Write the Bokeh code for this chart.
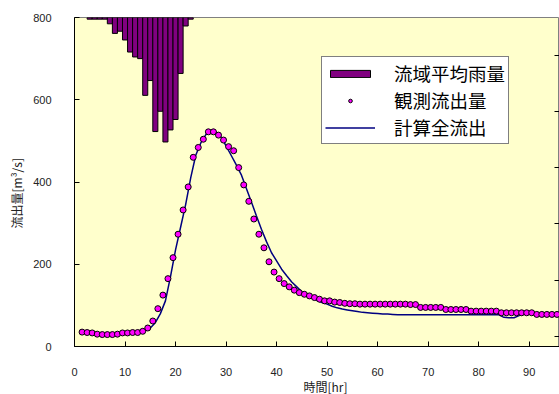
from bokeh.plotting import figure
from bokeh.models import Range1d, LinearAxis, FixedTicker, SingleIntervalTicker, Legend, LegendItem, Title
from bokeh.embed import file_html
from bokeh.resources import INLINE

# ---- data ----
rain_hours = [3, 4, 5, 6, 7, 8, 9, 10, 11, 12, 13, 14, 15, 16, 17, 18, 19, 20, 21, 22, 23]
rain_mm = [0.3, 0.3, 0.3, 0.3, 1.15, 2.9, 2.5, 4.1, 6.3, 7.2, 7.5, 14.2, 11.5, 20.8,
           17.1, 22.7, 20.5, 18.6, 10.2, 1.55, 0.3]

obs_hours = [k + 0.5 for k in range(1, 96)]
obs_flow = [35, 34, 33, 30, 29, 29, 29, 30, 33, 33, 34, 34, 37, 45, 62, 92,
            125, 165, 216, 273, 332, 388, 460, 484, 504, 522, 522, 514, 502, 486, 476, 435,
            393, 353, 310, 273, 240, 206, 181, 165,
            153, 145, 137, 131, 127, 123, 119, 115, 111, 111, 108, 107, 105,
            104, 104, 103, 103, 103, 103, 103, 103, 103, 103, 103, 103, 102, 102,
            95, 95, 95, 95, 95,
            90, 90, 90, 90, 90,
            86, 86, 86, 86, 86, 86,
            82, 82, 82, 82, 82, 82, 82,
            78, 78, 78, 78, 78]

calc_hours = list(range(2, 97))
calc_flow = [33, 32, 30, 29, 28, 28, 29, 31, 32, 33, 34, 35, 38, 45, 58,
             80, 111, 170, 235, 290, 345, 410, 465, 495, 515, 525, 522, 510, 488,
             465, 442, 418, 385, 352, 318, 285, 255, 228, 208, 188, 172, 157, 145, 133,
             125, 118, 112, 107, 103, 98, 94, 91, 89, 87, 85, 83, 82, 81, 80, 79, 79, 78,
             77, 77, 77, 77, 77, 77, 77, 77, 77, 77, 77, 77, 77, 77, 77, 77, 77, 77, 77, 77, 77,
             71, 70, 70, 75,
             79, 79, 79, 79, 79, 79, 79, 79]

x_max = 96
flow_max = 800
rain_axis_max = 60
rain_ticks = [6.9, 17.2, 27.4, 37.6, 47.9, 58.1]

labels = ["流域平均雨量", "観測流出量", "計算全流出"]
x_title = "時間[hr]"
y_title = "流出量[m³/s]"

# ---- figure ----
p = figure(width=559, height=394, output_backend="svg", toolbar_location=None,
           x_range=Range1d(0, x_max), y_range=Range1d(0, flow_max),
           min_border_left=74, min_border_top=17, min_border_right=0, min_border_bottom=48)
p.background_fill_color = "#FFFFCC"
p.border_fill_color = "white"
p.outline_line_color = "#808080"
p.xgrid.visible = False
p.ygrid.visible = False

p.extra_y_ranges = {"rain": Range1d(start=rain_axis_max, end=0)}

tick_font = "Liberation Sans"
for ax in (p.xaxis[0], p.yaxis[0]):
    ax.major_tick_in = 5
    ax.major_tick_out = 0
    ax.minor_tick_line_color = None
    ax.axis_line_color = "black"
    ax.major_tick_line_color = "black"
    ax.major_label_text_font = tick_font
    ax.major_label_text_font_size = "11px"
    ax.major_label_text_color = "#222222"

p.xaxis[0].ticker = SingleIntervalTicker(interval=10)
p.yaxis[0].ticker = SingleIntervalTicker(interval=200)
p.xaxis[0].major_label_standoff = 17
p.yaxis[0].major_label_standoff = 19

# axis titles, placed along the axes like the original
xt = Title(text=x_title, align="left", offset=229, standoff=-5,
           text_font="Noto Sans CJK JP", text_font_size="12px", text_font_style="normal",
           text_color="#222222")
yt = Title(text=y_title, align="left", offset=118, standoff=11,
           text_font="Noto Sans CJK JP", text_font_size="12px", text_font_style="normal",
           text_color="#222222")
p.add_layout(xt, "below")
p.add_layout(yt, "left")

rax = LinearAxis(y_range_name="rain", ticker=FixedTicker(ticks=rain_ticks),
                 major_label_overrides={t: "" for t in rain_ticks})
rax.major_tick_in = 5
rax.major_tick_out = 0
rax.minor_tick_line_color = None
rax.major_label_standoff = 0
rax.axis_label_standoff = 0
rax.axis_line_color = "#404040"
p.add_layout(rax, "right")

bars = p.vbar(x=rain_hours, width=1, top=0, bottom=rain_mm, y_range_name="rain",
              fill_color="#800080", line_color="black", line_width=1)
line = p.line(calc_hours, calc_flow, line_color="#000080", line_width=1.5)
pts = p.scatter(obs_hours, obs_flow, size=6, marker="circle",
                fill_color="#FF00FF", line_color="black", line_width=1)

legend = Legend(items=[LegendItem(label=labels[0], renderers=[bars]),
                       LegendItem(label=labels[1], renderers=[pts]),
                       LegendItem(label=labels[2], renderers=[line])],
                location=(247, 202))
legend.label_text_font = "Noto Sans CJK JP"
legend.label_text_font_size = "18.5px"
legend.label_text_color = "black"
legend.border_line_color = "black"
legend.border_line_width = 1
legend.background_fill_color = "white"
legend.background_fill_alpha = 1
legend.padding = 3
legend.margin = 0
legend.spacing = 1
legend.glyph_width = 50
legend.glyph_height = 9
legend.label_height = 9
legend.label_standoff = 19
legend.label_width = 108
p.add_layout(legend)

open("out.html", "w").write(file_html(p, INLINE))
